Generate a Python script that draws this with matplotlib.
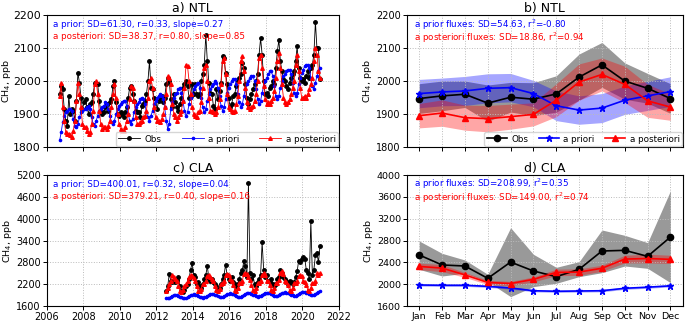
import numpy as np
import matplotlib
matplotlib.use('Agg')
from matplotlib import pyplot as plt

# ---- panel a) NTL monthly series, Sep 2006 - Dec 2020
obs_ntl = [1960, 1985, 1975, 1915,
           1880, 1865, 1955, 1900, 1915, 1910, 1880, 1940, 2025, 1995, 1950, 1915,
           1935, 1945, 1920, 1900, 1930, 1935, 1960, 1995, 1995, 1990, 1940, 1910,
           1900, 1905, 1920, 1930, 1910, 1935, 1945, 1985, 2000, 1935, 1900, 1895,
           1905, 1900, 1890, 1905, 1920, 1950, 1980, 1985, 1960, 1940, 1910, 1905,
           1905, 1890, 1925, 1930, 1940, 1960, 2000, 2060, 1980, 1975, 1950, 1945,
           1915, 1940, 1950, 1955, 1935, 1950, 1990, 2010, 2000, 1945, 1920, 1960,
           1935, 1920, 1910, 1930, 1950, 1980, 1990, 2000, 1985, 1950, 1955, 1990,
           1960, 1990, 1960, 1955, 1960, 2000, 2020, 2050, 2140, 2060, 1995, 1965,
           1960, 1925, 1915, 1975, 1945, 1970, 1995, 2075, 2070, 2025, 1990, 1950,
           1920, 1930, 1955, 1960, 1985, 2000, 2010, 2020, 2055, 2040, 1990, 1950,
           1930, 1945, 1960, 1975, 1990, 2000, 2020, 2080, 2130, 2080, 2000, 1960,
           1965, 1955, 1980, 1985, 2000, 1990, 2040, 2090, 2125, 2060, 2030, 2005,
           2000, 1985, 1975, 1995, 2010, 2020, 2030, 2060, 2105, 2040, 2010, 2000,
           2005, 1995, 2015, 2030, 2010, 2040, 2050, 2080, 2180, 2100, 2100, 2005]
prior_ntl = [1820, 1845, 1875, 1895,
             1905, 1910, 1915, 1915, 1910, 1885, 1865, 1860, 1870, 1890, 1905, 1910,
             1915, 1915, 1920, 1925, 1915, 1890, 1870, 1865, 1880, 1895, 1910, 1915,
             1920, 1925, 1935, 1930, 1915, 1895, 1875, 1870, 1880, 1900, 1915, 1925,
             1930, 1935, 1940, 1940, 1925, 1900, 1880, 1870, 1885, 1905, 1920, 1930,
             1935, 1945, 1950, 1945, 1930, 1905, 1890, 1880, 1895, 1910, 1930, 1940,
             1950, 1955, 1960, 1955, 1945, 1920, 1880, 1855, 1870, 1915, 1935, 1950,
             1960, 1965, 1975, 1980, 1965, 1940, 1910, 1895, 1905, 1930, 1950, 1960,
             1975, 1985, 1990, 1995, 1980, 1950, 1920, 1905, 1915, 1940, 1960, 1975,
             1985, 1990, 2000, 1995, 1980, 1955, 1925, 1910, 1920, 1945, 1965, 1980,
             1990, 2000, 2005, 2005, 1990, 1960, 1935, 1920, 1930, 1955, 1975, 1990,
             2000, 2010, 2015, 2015, 2000, 1975, 1945, 1930, 1940, 1965, 1985, 2000,
             2010, 2020, 2030, 2030, 2015, 1985, 1955, 1945, 1955, 1980, 2000, 2015,
             2020, 2030, 2035, 2035, 2020, 1995, 1965, 1955, 1965, 1990, 2010, 2025,
             2035, 2045, 2050, 2050, 2040, 2010, 1985, 1975, 1995, 2015, 2030, 2040]
post_ntl = [1955, 1995, 1920, 1880,
            1845, 1840, 1840, 1835, 1830, 1850, 1880, 1940, 1995, 1960, 1920, 1870,
            1860, 1860, 1850, 1840, 1845, 1870, 1910, 1990, 2000, 1960, 1910, 1870,
            1855, 1860, 1860, 1855, 1865, 1880, 1920, 1960, 1990, 1950, 1900, 1870,
            1855, 1850, 1850, 1860, 1880, 1900, 1945, 1985, 1980, 1940, 1890, 1870,
            1870, 1875, 1880, 1890, 1895, 1910, 1950, 2000, 2010, 1980, 1920, 1890,
            1880, 1880, 1875, 1885, 1900, 1920, 1960, 2015, 2010, 1990, 1930, 1900,
            1890, 1880, 1890, 1900, 1910, 1940, 1980, 2050, 2045, 2000, 1960, 1920,
            1900, 1895, 1890, 1905, 1910, 1935, 1980, 2040, 2050, 2000, 1950, 1910,
            1910, 1905, 1900, 1905, 1920, 1945, 1990, 2060, 2070, 2020, 1960, 1920,
            1915, 1910, 1905, 1910, 1930, 1955, 2000, 2060, 2075, 2030, 1980, 1935,
            1920, 1915, 1920, 1925, 1940, 1960, 2000, 2070, 2080, 2040, 1985, 1945,
            1930, 1935, 1930, 1940, 1950, 1970, 2010, 2060, 2085, 2040, 1990, 1950,
            1935, 1930, 1935, 1945, 1960, 1980, 2000, 2050, 2080, 2030, 1980, 1950,
            1950, 1955, 1950, 1960, 1975, 1990, 2010, 2060, 2100, 2080, 2030, 2010]

# ---- panel c) CLA monthly series, Jul 2012 - Dec 2020
obs_cla = [2000, 2150, 2480, 2300, 2250, 2300,
           2250, 2320, 2400, 2150, 2000, 1990, 2050, 2150, 2200, 2350, 2600, 2780,
           2450, 2400, 2200, 2250, 2150, 2100, 2200, 2350, 2450, 2700, 2350, 2300,
           2350, 2250, 2200, 2150, 2050, 2100, 2200, 2350, 2450, 2740, 2450, 2350,
           2300, 2400, 2250, 2200, 2150, 2200, 2350, 2500, 2600, 2830, 2700, 2400,
           4980, 2500, 2350, 2450, 2200, 2150, 2250, 2350, 2450, 3350, 2600, 2400,
           2450, 2300, 2250, 2350, 2200, 2150, 2200, 2350, 2400, 2600, 2500, 2400,
           2350, 2300, 2200, 2300, 2250, 2200, 2250, 2400, 2550, 2850, 2800, 2900,
           2950, 2900, 2600, 2500, 2350, 3950, 2450, 2600, 3000, 3050, 2800, 3250]
prior_cla = [1820, 1815, 1830, 1860, 1880, 1890,
             1900, 1895, 1880, 1860, 1840, 1820, 1815, 1820, 1840, 1870, 1900, 1910,
             1920, 1915, 1900, 1880, 1860, 1840, 1830, 1835, 1855, 1885, 1910, 1925,
             1935, 1930, 1915, 1895, 1870, 1850, 1840, 1845, 1865, 1895, 1920, 1935,
             1945, 1940, 1925, 1905, 1880, 1860, 1850, 1855, 1875, 1905, 1930, 1945,
             1955, 1950, 1935, 1915, 1890, 1870, 1860, 1865, 1885, 1915, 1940, 1955,
             1965, 1960, 1945, 1925, 1900, 1880, 1870, 1875, 1895, 1925, 1950, 1965,
             1975, 1970, 1955, 1935, 1910, 1890, 1880, 1885, 1905, 1935, 1960, 1975,
             1990, 1985, 1970, 1950, 1925, 1905, 1895, 1900, 1920, 1950, 1975, 2000]
post_cla = [2000, 2100, 2200, 2300, 2450, 2400,
            2350, 2300, 2150, 2000, 1980, 2050, 2150, 2200, 2280, 2400, 2450, 2420,
            2380, 2300, 2150, 2020, 2000, 2080, 2200, 2200, 2280, 2420, 2450, 2400,
            2350, 2280, 2150, 2030, 2000, 2080, 2200, 2220, 2290, 2450, 2480, 2450,
            2350, 2300, 2180, 2040, 2010, 2090, 2220, 2230, 2300, 2480, 2500, 2480,
            2400, 2320, 2180, 2040, 2020, 2100, 2230, 2230, 2300, 2450, 2500, 2460,
            2300, 2280, 2180, 2040, 2010, 2100, 2230, 2240, 2310, 2500, 2550, 2480,
            2300, 2270, 2170, 2030, 2010, 2090, 2220, 2220, 2290, 2420, 2450, 2430,
            2280, 2250, 2170, 2040, 2010, 2100, 2230, 2230, 2300, 2500, 2450, 2500]

# ---- panels b) and d) monthly climatology
months = ['Jan', 'Feb', 'Mar', 'Apr', 'May', 'Jun', 'Jul', 'Aug', 'Sep', 'Oct', 'Nov', 'Dec']
obs_b = [1947, 1955, 1960, 1933, 1951, 1945, 1961, 2012, 2049, 2000, 1978, 1947]
obs_b_sd = [45, 45, 40, 55, 45, 50, 55, 70, 68, 55, 45, 45]
prior_b = [1962, 1967, 1970, 1978, 1980, 1962, 1925, 1912, 1918, 1942, 1955, 1968]
prior_b_sd = [43, 42, 44, 44, 43, 40, 45, 43, 44, 43, 44, 45]
post_b = [1895, 1903, 1889, 1886, 1892, 1899, 1942, 1997, 2020, 1990, 1940, 1921]
post_b_sd = [37, 40, 38, 40, 38, 35, 50, 55, 50, 55, 50, 40]

obs_d = [2535, 2352, 2333, 2107, 2405, 2242, 2138, 2272, 2608, 2620, 2510, 2864]
obs_d_upper = [2791, 2565, 2443, 2181, 3035, 2547, 2309, 2413, 2993, 2895, 2761, 3713]
obs_d_lower = [2272, 2150, 2200, 2046, 1772, 1955, 2016, 2138, 2211, 2333, 2290, 2028]
prior_d = [1985, 1980, 1980, 1960, 1930, 1880, 1870, 1875, 1880, 1925, 1945, 1970]
prior_d_sd = [20, 20, 20, 20, 20, 20, 20, 20, 20, 20, 20, 20]
post_d = [2325, 2295, 2170, 2032, 2012, 2088, 2215, 2222, 2292, 2460, 2470, 2455]
post_d_sd = [60, 65, 45, 40, 40, 45, 60, 60, 55, 70, 80, 75]

t_ntl = 2006 + (8 + np.arange(len(obs_ntl)) + 0.5) / 12
t_cla = 2012 + (6 + np.arange(len(obs_cla)) + 0.5) / 12
mon = np.arange(1, 13)

fig = plt.figure(figsize=(6.85, 3.21), dpi=100)
ax_a = fig.add_axes([0.0682, 0.542, 0.4267, 0.411])
ax_b = fig.add_axes([0.5937, 0.542, 0.4034, 0.411])
ax_c = fig.add_axes([0.0682, 0.0467, 0.4267, 0.408])
ax_d = fig.add_axes([0.5937, 0.0467, 0.4034, 0.408])

ylab = 'CH$_4$, ppb'
txt = 6.3

for ax in (ax_a, ax_b, ax_c, ax_d):
    ax.tick_params(length=3, width=0.7, pad=1.2)
    ax.grid(True, ls=':', color='#bbbbbb', lw=0.7)
    ax.set_ylabel(ylab, fontsize=6.8, labelpad=1.5)
    for s in ax.spines.values():
        s.set_linewidth(0.8)
ax_a.set_ylabel(ylab, fontsize=6.8, labelpad=0.3)


def series_panel(ax, t, obs, prior, post, title, lines, legend):
    ax.plot(t, obs, color='black', lw=0.6, marker='o', ms=2.5, label='Obs')
    ax.plot(t, prior, color='blue', lw=0.6, marker='o', ms=1.6, label='a priori')
    ax.plot(t, post, color='red', lw=0.6, marker='^', ms=2.6, label='a posteriori')
    ax.set_xlim(2006, 2022)
    ax.set_xticks(np.arange(2006, 2023, 2))
    ax.set_title(title, fontsize=9, pad=2)
    ax.text(0.02, 0.93, lines[0], color='blue', fontsize=txt, transform=ax.transAxes, va='center')
    ax.text(0.02, 0.835, lines[1], color='red', fontsize=txt, transform=ax.transAxes, va='center')
    if legend:
        ax.legend(loc='lower right', ncol=3, fontsize=txt, handlelength=2.5, columnspacing=2.3,
                  borderaxespad=0.1, borderpad=0.3, handletextpad=0.5)


def clim_panel(ax, title, lines, legend):
    ax.set_xlim(0.45, 12.55)
    ax.set_xticks(mon)
    ax.set_title(title, fontsize=9, pad=2)
    ax.text(0.025, 0.93, lines[0], color='blue', fontsize=txt, transform=ax.transAxes, va='center')
    ax.text(0.025, 0.83, lines[1], color='red', fontsize=txt, transform=ax.transAxes, va='center')
    if legend:
        ax.legend(loc='lower right', ncol=3, fontsize=txt, handlelength=2.3, columnspacing=1.2,
                  borderaxespad=0.1, borderpad=0.3, handletextpad=0.5)


# a) NTL
series_panel(ax_a, t_ntl, obs_ntl, prior_ntl, post_ntl, 'a) NTL',
             ['a prior: SD=61.30, r=0.33, slope=0.27',
              'a posteriori: SD=38.37, r=0.80, slope=0.85'], True)
ax_a.set_ylim(1800, 2200)
ax_a.set_yticks([1800, 1900, 2000, 2100, 2200])
ax_a.tick_params(axis='y', labelsize=7.8)
ax_a.tick_params(axis='x', labelbottom=False)

# c) CLA
series_panel(ax_c, t_cla, obs_cla, prior_cla, post_cla, 'c) CLA',
             ['a prior: SD=400.01, r=0.32, slope=0.04',
              'a posteriori: SD=379.21, r=0.40, slope=0.16'], False)
ax_c.set_ylim(1600, 5200)
ax_c.set_yticks(np.arange(1600, 5201, 600))
ax_c.tick_params(labelsize=7)

# b) NTL climatology
ob, pb, rb = np.array(obs_b), np.array(prior_b), np.array(post_b)
ax_b.fill_between(mon, ob - obs_b_sd, ob + obs_b_sd, color='#555555', alpha=0.6, lw=0)
ax_b.fill_between(mon, pb - prior_b_sd, pb + prior_b_sd, color='blue', alpha=0.35, lw=0)
ax_b.fill_between(mon, rb - post_b_sd, rb + post_b_sd, color='red', alpha=0.35, lw=0)
ax_b.plot(mon, ob, color='black', lw=1.2, marker='o', ms=4.5, label='Obs')
ax_b.plot(mon, pb, color='blue', lw=1.2, marker='*', ms=5, label='a priori')
ax_b.plot(mon, rb, color='red', lw=1.2, marker='^', ms=4.5, label='a posteriori')
clim_panel(ax_b, 'b) NTL', ['a prior fluxes: SD=54.63, r$^2$=-0.80',
                            'a posteriori fluxes: SD=18.86, r$^2$=0.94'], True)
ax_b.set_ylim(1800, 2200)
ax_b.set_yticks([1800, 1900, 2000, 2100, 2200])
ax_b.tick_params(axis='y', labelsize=7)
ax_b.tick_params(axis='x', labelbottom=False)

# d) CLA climatology
od, pd_, rd = np.array(obs_d), np.array(prior_d), np.array(post_d)
ax_d.fill_between(mon, obs_d_lower, obs_d_upper, color='#555555', alpha=0.6, lw=0)
ax_d.fill_between(mon, pd_ - prior_d_sd, pd_ + prior_d_sd, color='blue', alpha=0.35, lw=0)
ax_d.fill_between(mon, rd - post_d_sd, rd + post_d_sd, color='red', alpha=0.35, lw=0)
ax_d.plot(mon, od, color='black', lw=1.2, marker='o', ms=4.5)
ax_d.plot(mon, pd_, color='blue', lw=1.2, marker='*', ms=5)
ax_d.plot(mon, rd, color='red', lw=1.2, marker='^', ms=4.5)
clim_panel(ax_d, 'd) CLA', ['a prior fluxes: SD=208.99, r$^2$=0.35',
                            'a posteriori fluxes: SD=149.00, r$^2$=0.74'], False)
ax_d.set_ylim(1600, 4000)
ax_d.set_yticks(np.arange(1600, 4001, 400))
ax_d.set_xticklabels(months)
ax_d.tick_params(labelsize=6.8)

fig.savefig('out.png', dpi=100)
